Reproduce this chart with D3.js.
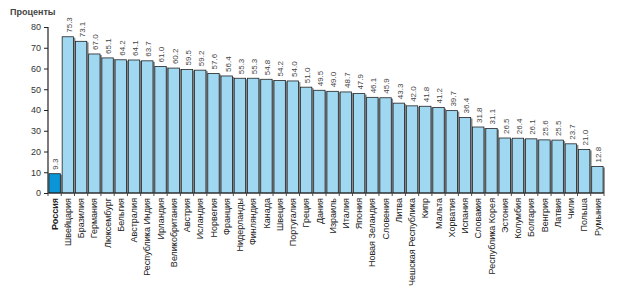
<!DOCTYPE html>
<html>
<head>
<meta charset="utf-8">
<script src="https://cdn.jsdelivr.net/npm/d3@7"></script>
<style>
  body { margin: 0; background: #fff; }
  svg { display: block; font-family: "Liberation Sans", Arial, sans-serif; }
</style>
</head>
<body>
<svg id="chart" width="624" height="297"></svg>
<script>
const countries = [
    "Россия", "Швейцария", "Бразилия", "Германия", "Люксембург", "Бельгия", "Австралия",
    "Республика Индия", "Ирландия", "Великобритания", "Австрия", "Исландия", "Норвегия",
    "Франция", "Нидерланды", "Финляндия", "Канада", "Швеция", "Португалия", "Греция",
    "Дания", "Израиль", "Италия", "Япония", "Новая Зеландия", "Словения", "Литва",
    "Чешская Республика", "Кипр", "Мальта", "Хорватия", "Испания", "Словакия",
    "Республика Корея", "Эстония", "Колумбия", "Болгария", "Венгрия", "Латвия",
    "Чили", "Польша", "Румыния"
];
const values = [
    9.3, 75.3, 73.1, 67.0, 65.1, 64.2, 64.1, 63.7, 61.0, 60.2, 59.5, 59.2, 57.6,
    56.4, 55.3, 55.3, 54.8, 54.2, 54.0, 51.0, 49.5, 49.0, 48.7, 47.9, 46.1, 45.9,
    43.3, 42.0, 41.8, 41.2, 39.7, 36.4, 31.8, 31.1, 26.5, 26.4, 26.1, 25.6, 25.5,
    23.7, 21.0, 12.8
];
const yTicks = [0, 10, 20, 30, 40, 50, 60, 70, 80];
const highlight = "Россия";

const data = countries.map((c, i) => ({ country: c, value: values[i] }));

const svg = d3.select("#chart");
const plotLeft = 48, plotRight = 604, plotTop = 27, plotBottom = 193;

const x = d3.scaleBand().domain(countries).range([plotLeft, plotRight]).paddingInner(0.14).paddingOuter(0.07);
const y = d3.scaleLinear().domain([0, 80]).range([plotBottom, plotTop]);

// shadows
svg.append("g").selectAll("rect")
    .data(data)
    .join("rect")
    .attr("x", d => x(d.country) + 1.8)
    .attr("y", d => y(d.value) + 1)
    .attr("width", x.bandwidth())
    .attr("height", d => plotBottom - y(d.value) - 1)
    .attr("fill", "#8a8a8a");

// bars
svg.append("g").selectAll("rect")
    .data(data)
    .join("rect")
    .attr("x", d => x(d.country))
    .attr("y", d => y(d.value))
    .attr("width", x.bandwidth())
    .attr("height", d => plotBottom - y(d.value))
    .attr("fill", d => d.country === highlight ? "#0a96d6" : "#a0d8f2")
    .attr("stroke", "#222")
    .attr("stroke-width", 0.8);

// value labels
svg.append("g").selectAll("text")
    .data(data)
    .join("text")
    .attr("transform", d => `translate(${x(d.country) + x.bandwidth() / 2 + 1},${y(d.value) - 4}) rotate(-90)`)
    .attr("dy", "0.35em")
    .attr("font-size", 8)
    .attr("fill", "#444")
    .text(d => d.value.toFixed(1));

// x axis line and ticks
svg.append("line")
    .attr("x1", plotLeft).attr("x2", plotRight)
    .attr("y1", plotBottom).attr("y2", plotBottom)
    .attr("stroke", "#222").attr("stroke-width", 1.2);

const step = x.step();
const tick0 = x(countries[0]) - step * x.paddingInner() / 2;
svg.append("g").selectAll("line")
    .data(d3.range(countries.length + 1))
    .join("line")
    .attr("x1", i => tick0 + i * step)
    .attr("x2", i => tick0 + i * step)
    .attr("y1", plotBottom).attr("y2", plotBottom + 3)
    .attr("stroke", "#222").attr("stroke-width", 0.8);

// x labels
svg.append("g").selectAll("text")
    .data(countries)
    .join("text")
    .attr("transform", d => `translate(${x(d) + x.bandwidth() / 2},${plotBottom + 5}) rotate(-90)`)
    .attr("dy", "0.35em")
    .attr("text-anchor", "end")
    .attr("font-size", 9)
    .attr("font-weight", d => d === highlight ? "bold" : "normal")
    .attr("fill", "#222")
    .text(d => d);

// y axis
const yAxis = svg.append("g")
    .attr("transform", `translate(${plotLeft},0)`)
    .call(d3.axisLeft(y).tickValues(yTicks).tickSize(4).tickPadding(3));
yAxis.select(".domain").attr("stroke", "#222").attr("stroke-width", 1.2).attr("d", `M0,${plotBottom}V${plotTop}`);
yAxis.selectAll(".tick line").attr("stroke", "#222");
yAxis.selectAll(".tick text")
    .attr("font-size", 9)
    .attr("font-family", "Liberation Sans, Arial, sans-serif")
    .attr("fill", "#333");

svg.append("text")
    .attr("x", 10).attr("y", 15)
    .attr("font-size", 9)
    .attr("font-weight", "bold")
    .attr("fill", "#444")
    .text("Проценты");
</script>
</body>
</html>
